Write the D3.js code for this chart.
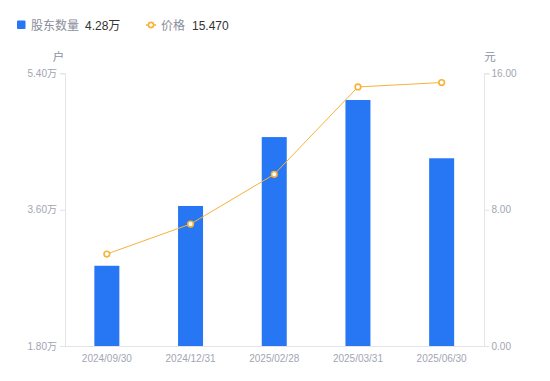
<!DOCTYPE html>
<html><head><meta charset="utf-8">
<script src="https://cdn.jsdelivr.net/npm/d3@7"></script>
<style>
body{margin:0;background:#fff;}
svg{display:block;font-family:"Liberation Sans","Noto Sans CJK SC",sans-serif;}
</style></head>
<body><svg id="c" width="550" height="381"></svg>
<script>
const categories = ["2024/09/30","2024/12/31","2025/02/28","2025/03/31","2025/06/30"];
const holders = [2.86, 3.65, 4.56, 5.05, 4.28]; // 万户
const prices = [5.40, 7.16, 10.08, 15.21, 15.47];
const leftTicks = [1.80, 3.60, 5.40];
const rightTicks = [0, 8, 16];

const svg = d3.select("#c");
const L = 65, R = 485, T = 73.5, B = 346;
const barColor = "#2777f5", lineColor = "#f7b237", axisColor = "#e3e4e8", tickText = "#a2a5b2";
const fontNum = "'Liberation Sans','Noto Sans CJK SC',sans-serif";

const x = d3.scaleBand().domain(categories).range([L, R - 1.5]);
const yL = d3.scaleLinear().domain([1.8, 5.4]).range([B, T]);
const yR = d3.scaleLinear().domain([0, 16]).range([B, T]);

// axes
const gL = svg.append("g").attr("transform", `translate(${L},0)`)
  .call(d3.axisLeft(yL).tickValues(leftTicks).tickSize(5).tickPadding(3).tickFormat(d => d3.format(".2f")(d) + "万"));
const gR = svg.append("g").attr("transform", `translate(${R},0)`)
  .call(d3.axisRight(yR).tickValues(rightTicks).tickSize(4.5).tickPadding(2).tickFormat(d3.format(".2f")));
const gX = svg.append("g").attr("transform", `translate(0,${B})`)
  .call(d3.axisBottom(x).tickSize(0).tickPadding(8.5));
[gL, gR, gX].forEach(g => {
  g.select(".domain").attr("stroke", axisColor);
  g.selectAll(".tick line").attr("stroke", axisColor);
  g.selectAll("text").attr("fill", tickText).attr("font-size", 10).attr("font-family", fontNum);
});
gX.select(".domain").attr("d", `M${L},0.5H${R}`);
gL.select(".domain").attr("d", `M-5,${T}H0.5V${B}`);
gR.select(".domain").attr("d", `M4.5,${T}H-0.5V${B}`);

// unit labels
svg.append("text").attr("x", 58.5).attr("y", 61).attr("text-anchor", "middle")
  .attr("fill", "#8d90a0").attr("font-size", 11.5).attr("font-family", "'Noto Sans CJK SC',sans-serif").text("户");
svg.append("text").attr("x", 490).attr("y", 61).attr("text-anchor", "middle")
  .attr("fill", "#8d90a0").attr("font-size", 11.5).attr("font-family", "'Noto Sans CJK SC',sans-serif").text("元");

// bars
const bw = 25;
svg.append("g").selectAll("rect").data(holders).join("rect")
  .attr("x", (d, i) => x(categories[i]) + x.bandwidth() / 2 - bw / 2)
  .attr("y", d => yL(d))
  .attr("width", bw)
  .attr("height", d => B - yL(d))
  .attr("fill", barColor);

// line
const line = d3.line().x((d, i) => x(categories[i]) + x.bandwidth() / 2).y(d => yR(d));
svg.append("path").datum(prices).attr("d", line).attr("fill", "none")
  .attr("stroke", lineColor).attr("stroke-width", 1);
svg.append("g").selectAll("circle").data(prices).join("circle")
  .attr("cx", (d, i) => x(categories[i]) + x.bandwidth() / 2)
  .attr("cy", d => yR(d)).attr("r", 2.8)
  .attr("fill", "#fff").attr("stroke", lineColor).attr("stroke-width", 1.6);

// legend
const lg = svg.append("g");
lg.append("rect").attr("x", 17).attr("y", 20.5).attr("width", 8.5).attr("height", 8.5).attr("rx", 1).attr("fill", barColor);
lg.append("text").attr("x", 31).attr("y", 29.5).attr("font-size", 12).attr("fill", "#8a8d9b")
  .attr("font-family", "'Noto Sans CJK SC',sans-serif").text("股东数量");
lg.append("text").attr("x", 85).attr("y", 29.5).attr("font-size", 12).attr("fill", "#333")
  .attr("font-family", fontNum).text(d3.format(".2f")(holders[holders.length - 1]) + "万");
lg.append("line").attr("x1", 146).attr("x2", 156).attr("y1", 25).attr("y2", 25).attr("stroke", lineColor).attr("stroke-width", 1.5);
lg.append("circle").attr("cx", 151).attr("cy", 25).attr("r", 2.6).attr("fill", "#fff").attr("stroke", lineColor).attr("stroke-width", 1.6);
lg.append("text").attr("x", 161).attr("y", 29.5).attr("font-size", 12).attr("fill", "#8a8d9b")
  .attr("font-family", "'Noto Sans CJK SC',sans-serif").text("价格");
lg.append("text").attr("x", 192).attr("y", 29.5).attr("font-size", 12).attr("fill", "#333")
  .attr("font-family", fontNum).text(d3.format(".3f")(prices[prices.length - 1]));
</script></body></html>
